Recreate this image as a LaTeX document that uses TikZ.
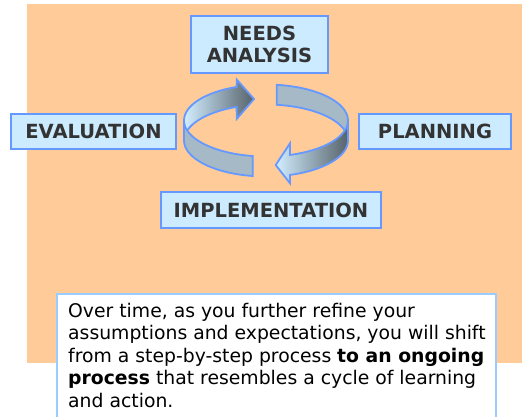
\documentclass[tikz,border=0pt]{standalone}
\usepackage{fontspec}
\setmainfont{DejaVu Sans}
\usetikzlibrary{calc}
\definecolor{peach}{HTML}{FFCC99}
\definecolor{boxfill}{HTML}{CCEBFF}
\definecolor{boxline}{HTML}{6699FF}
\definecolor{noteline}{HTML}{99CCFF}
\definecolor{labelgray}{HTML}{333333}
\definecolor{bandgray}{HTML}{A5B9C6}
\definecolor{bandlight}{HTML}{D2EEFF}
\definecolor{banddark}{HTML}{56626B}
\begin{document}
\begin{tikzpicture}[x=1pt,y=1pt,
  stagebox/.style={draw=boxline, line width=2pt, fill=boxfill, inner sep=0pt,
    text=labelgray, font=\fontsize{19.5}{21.5}\selectfont\bfseries, align=center},
  ribbon/.style={draw=boxline, line width=1.8pt},
  notebox/.style={draw=noteline, line width=2pt, fill=white}]
\useasboundingbox (0,0) rectangle (522,416);
\clip (0,0) rectangle (522,416);
% backdrop
\fill[peach] (27,53) rectangle (522,412);

% stage boxes
\node[stagebox, minimum width=137pt, minimum height=57pt] (needs) at (259.5,371.5) {NEEDS\\ANALYSIS};
\node[stagebox, minimum width=165pt, minimum height=35pt] (eval) at (93.5,284.5) {EVALUATION};
\node[stagebox, minimum width=152pt, minimum height=35pt] (plan) at (435,284.5) {PLANNING};
\node[stagebox, minimum width=220pt, minimum height=36pt] (impl) at (271,206) {IMPLEMENTATION};

% cycle ribbon: top rim T, bottom rim B
\coordinate (T) at (266,295.5);
\coordinate (B) at (266,275.5);
\def\rx{82}\def\ry{36}
% back half, left: arrow pointing right
\path[ribbon, left color=bandlight, right color=banddark]
  ($(T)+(180:\rx pt and \ry pt)$) arc[start angle=180,end angle=111,x radius=\rx,y radius=\ry]
  -- (236.7,336.5) -- (254,317) -- (236.7,297)
  -- ($(B)+(111:\rx pt and \ry pt)$) arc[start angle=111,end angle=180,x radius=\rx,y radius=\ry]
  -- cycle;
% back half, right: plain band
\path[ribbon, fill=bandgray]
  ($(T)+(82.5:\rx pt and \ry pt)$) arc[start angle=82.5,end angle=0,x radius=\rx,y radius=\ry]
  -- ($(B)+(0:\rx pt and \ry pt)$) arc[start angle=0,end angle=82.5,x radius=\rx,y radius=\ry]
  -- cycle;
% front half, left: plain band
\path[ribbon, fill=bandgray]
  ($(T)+(180:\rx pt and \ry pt)$) arc[start angle=180,end angle=260.7,x radius=\rx,y radius=\ry]
  -- ($(B)+(260.7:\rx pt and \ry pt)$) arc[start angle=260.7,end angle=180,x radius=\rx,y radius=\ry]
  -- cycle;
% front half, right: arrow pointing left
\path[ribbon, left color=bandlight, right color=banddark]
  ($(T)+(0:\rx pt and \ry pt)$) arc[start angle=0,end angle=-73,x radius=\rx,y radius=\ry]
  -- (290,272.7) -- (275.7,251) -- (290,232.7)
  -- ($(B)+(-73:\rx pt and \ry pt)$) arc[start angle=-73,end angle=0,x radius=\rx,y radius=\ry]
  -- cycle;

% note
\draw[notebox] (57,122) rectangle (496,-10);
\node[anchor=north west, inner sep=0pt, align=left,
  font=\fontsize{18.8}{22.5}\selectfont] (note) at (68,113)
  {Over time, as you further refine your\\
   assumptions and expectations, you will shift\\
   from a step-by-step process \textbf{to an ongoing}\\
   \textbf{process} that resembles a cycle of learning\\
   and action.};
\end{tikzpicture}
\end{document}
